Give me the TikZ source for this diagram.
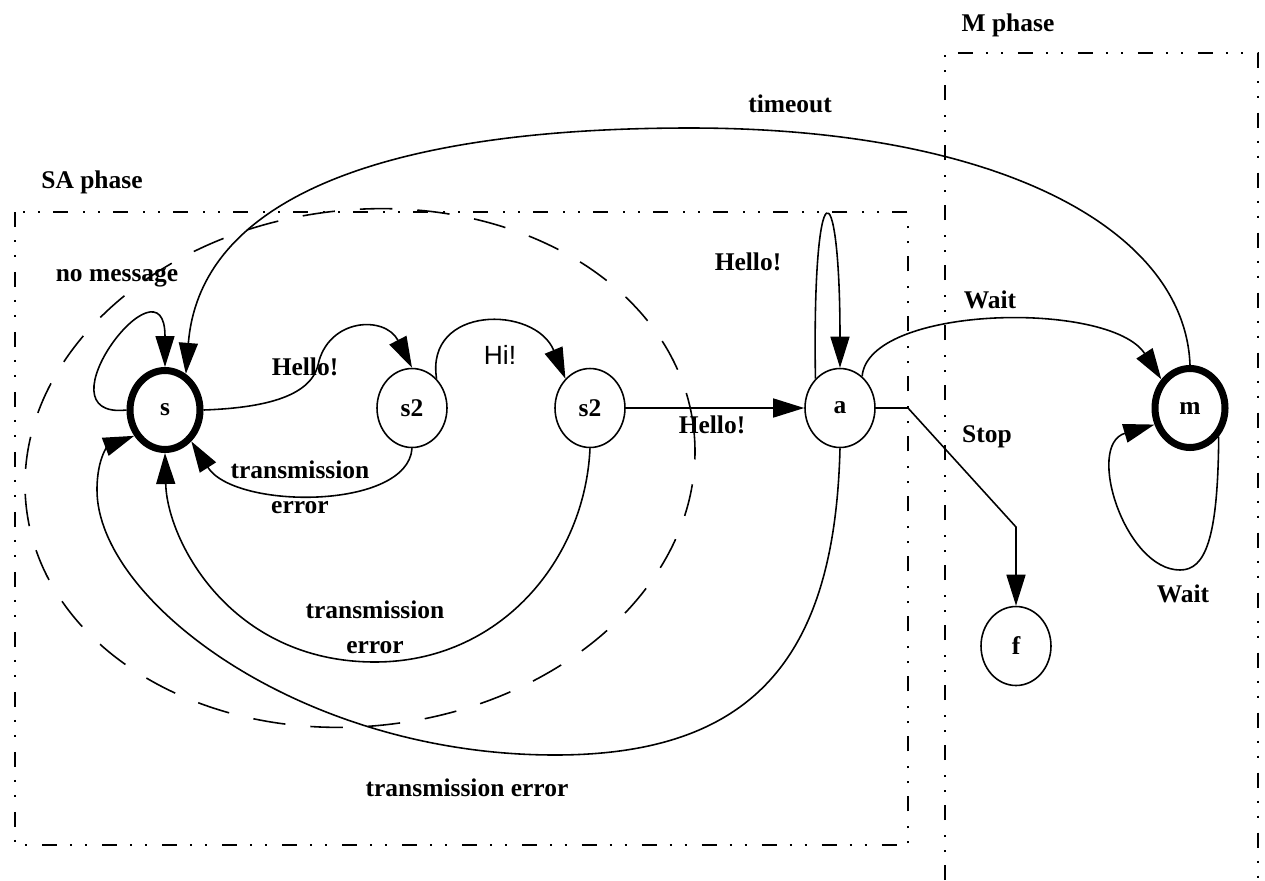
\documentclass[tikz,border=0pt]{standalone}
\usepackage{fontspec}
\setmainfont{Liberation Serif}
\newfontfamily\hifont{Liberation Sans}
\usetikzlibrary{shapes.geometric,arrows.meta}

\begin{document}
\begin{tikzpicture}[
            x=0.02cm, y=-0.02cm,
            state/.style={
                ellipse,
                draw=black,
                line width=0.9pt,
                minimum width=1.4cm,
                minimum height=1.58cm,
                inner sep=0pt,
                font=\fontsize{14.5}{17}\selectfont\bfseries
            },
            mainstate/.style={
                state,
                line width=4pt
            },
            lbl/.style={
                draw=none,
                inner sep=0pt,
                align=center,
                font=\fontsize{14.5}{20}\selectfont\bfseries
            },
            phase/.style={
                draw=black,
                line width=0.9pt,
                dash pattern=on 0.3cm off 0.26cm on 0.04cm off 0.26cm on 0.04cm off 0.3cm
            },
            ring/.style={draw=black, line width=0.9pt, dash pattern=on 0.65cm off 0.5cm},
            arrow/.style={-{Triangle[length=0.62cm, width=0.38cm]}, line width=0.9pt}
        ]
        \useasboundingbox (0,0) rectangle (1265,880);

        % Phase frames
        \draw[phase] (15,212) rectangle (908,845);
        \draw[phase] (945,880) -- (945,53) -- (1258,53) -- (1258,880);
        \node[lbl] (sa) at (92,182) {SA phase};
        \node[lbl] (mp) at (1008,25) {M phase};

        % Dashed ring round the first states
        \draw[ring, rotate around={7:(360,468)}] (360,468) ellipse [x radius=336, y radius=258];

        % States
        \node[mainstate] (s) at (165,410) {s};
        \node[state] (s2a) at (412,408) {s2};
        \node[state] (s2b) at (590,408) {s2};
        \node[state] (a) at (840,408) {a};
        \node[mainstate] (m) at (1190,408) {m};
        \node[state] (f) at (1016,646) {f};

        % Transitions of the SA phase
        \draw[arrow] (s.west) .. controls (35,420) and (165,250) .. (s.north);
        \draw[arrow] (s.east) .. controls (260,408) and (310,398) .. (318,365)
            .. controls (328,318) and (385,315) .. (s2a.north);
        \draw[arrow] (s2a.south) .. controls (408,510) and (235,510) .. (s.-50);
        \draw[arrow] (s2a.50) .. controls (425,305) and (535,305) .. (s2b.130);
        \draw[arrow] (s2b) -- (a);
        \draw[arrow] (s2b.south) .. controls (585,560) and (500,662) .. (375,662)
            .. controls (230,662) and (167,540) .. (s.south);
        \draw[arrow] (a.south) .. controls (835,650) and (760,755) .. (555,755)
            .. controls (300,755) and (97,600) .. (97,490)
            .. controls (97,455) and (110,445) .. (s.-140);
        \draw[arrow] (a.130) .. controls (812,165) and (840,165) .. (a.north);

        % Transitions towards the M phase
        \draw[arrow] (m.north) .. controls (1185,230) and (1000,128) .. (690,128)
            .. controls (380,128) and (200,200) .. (s.60);
        \draw[arrow] (a.55) .. controls (868,305) and (1110,300) .. (m.135);
        \coordinate (k1) at (908,408);
        \coordinate (k2) at (1016,527);
        \draw[arrow] (a.east) -- (k1) -- (k2) -- (f.north);
        \draw[arrow] (m.-45) .. controls (1218,540) and (1205,570) .. (1180,570)
            .. controls (1125,570) and (1085,445) .. (m.-155);

        % Edge labels
        \node[lbl] (l1) at (117,278) {no message};
        \node[lbl] (l2) at (790,104) {timeout};
        \node[lbl] (l3) at (305,367) {Hello!};
        \node[lbl] (l4) at (300,487) {transmission\\error};
        \node[lbl, font=\hifont\fontsize{15}{18}\selectfont] (l5) at (500,355) {Hi!};
        \node[lbl] (l6) at (712,425) {Hello!};
        \node[lbl] (l7) at (375,627) {transmission\\error};
        \node[lbl] (l8) at (467,788) {transmission error};
        \node[lbl] (l9) at (748,262) {Hello!};
        \node[lbl] (l10) at (990,300) {Wait};
        \node[lbl] (l11) at (987,437) {Stop};
        \node[lbl] (l12) at (1183,594) {Wait};

        \end{tikzpicture}
\end{document}
